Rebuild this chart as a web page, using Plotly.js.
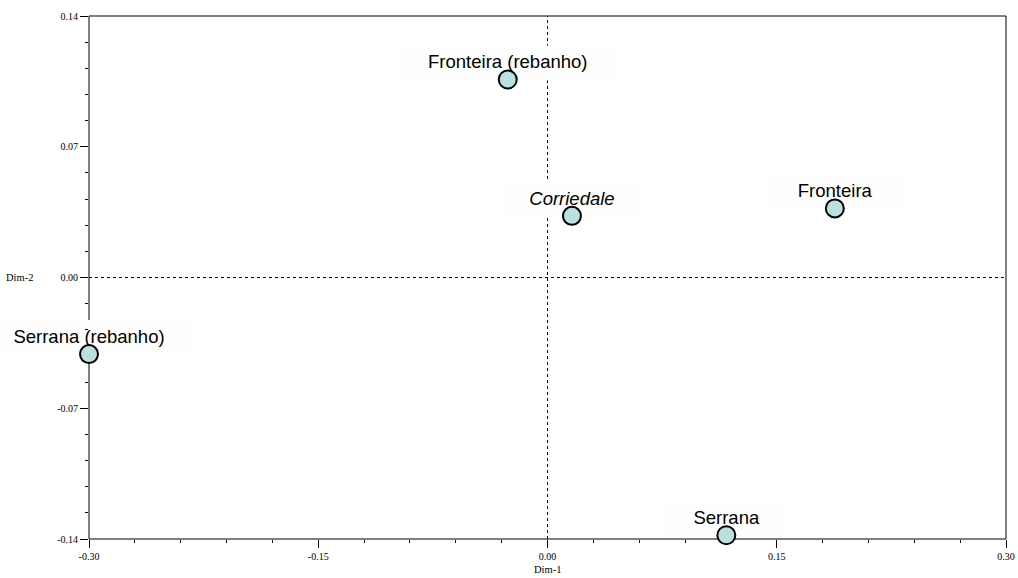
<!DOCTYPE html>
<html>
<head>
<meta charset="utf-8">
<script src="https://cdn.plot.ly/plotly-3.0.1.min.js"></script>
<style>
  html, body { margin: 0; padding: 0; background: #ffffff; }
  #chart { width: 1018px; height: 578px; }
</style>
</head>
<body>
<div id="chart"></div>
<script>
// Correspondence-analysis style map: groups placed on Dim-1 / Dim-2
const groups = ['Fronteira (rebanho)', 'Corriedale', 'Fronteira', 'Serrana (rebanho)', 'Serrana'];
const dim1 = [-0.026, 0.016, 0.188, -0.300, 0.117];
const dim2 = [0.106, 0.033, 0.037, -0.041, -0.138];
const italicGroups = ['Corriedale'];

const xTicks = [-0.30, -0.15, 0.00, 0.15, 0.30];
const yTicks = [-0.14, -0.07, 0.00, 0.07, 0.14];
const xTickText = xTicks.map(v => v.toFixed(2));
const yTickText = yTicks.map(v => v.toFixed(2));

const xRange = [xTicks[0], xTicks[xTicks.length - 1]];
const yRange = [yTicks[0], yTicks[yTicks.length - 1]];

// convert a data value to a paper fraction
const xFrac = v => (v - xRange[0]) / (xRange[1] - xRange[0]);
const yFrac = v => (v - yRange[0]) / (yRange[1] - yRange[0]);

const labelText = groups.map(g => italicGroups.includes(g) ? '<i>' + g + '</i>' : g);

// labels (drawn first so the markers sit on top of them)
const labelTrace = {
  type: 'scatter',
  mode: 'markers+text',
  x: dim1,
  y: dim2,
  text: labelText,
  textposition: 'top center',
  textfont: { family: 'Liberation Sans, Arial, sans-serif', size: 18.5, color: '#000000' },
  marker: { size: 9, color: 'rgba(0,0,0,0)', line: { width: 0 } },
  cliponaxis: false,
  hoverinfo: 'skip',
  showlegend: false
};

const pointTrace = {
  type: 'scatter',
  mode: 'markers',
  x: dim1,
  y: dim2,
  marker: { size: 18, color: '#bcdfe0', line: { color: '#000000', width: 2 } },
  cliponaxis: false,
  hovertext: groups,
  hoverinfo: 'text',
  showlegend: false
};

const dashStyle = { color: '#000000', width: 1, dash: '3px,3px' };

const shapes = [
  // plot frame
  { type: 'rect', xref: 'paper', yref: 'paper', x0: 0, x1: 1, y0: 0, y1: 1,
    line: { color: '#000000', width: 1 }, layer: 'below' },
  // reference lines through the origin
  { type: 'line', xref: 'paper', yref: 'paper', x0: 0, x1: 1, y0: yFrac(0), y1: yFrac(0),
    line: dashStyle, layer: 'below' },
  { type: 'line', xref: 'paper', yref: 'paper', x0: xFrac(0), x1: xFrac(0), y0: 0, y1: 1,
    line: dashStyle, layer: 'below' }
];

// near-white label panels behind each group name
groups.forEach((g, i) => {
  const halfW = g.length * 4.2 + 30;
  shapes.push({
    type: 'rect', xref: 'paper', yref: 'paper',
    xsizemode: 'pixel', ysizemode: 'pixel',
    xanchor: xFrac(dim1[i]), yanchor: yFrac(dim2[i]),
    x0: -halfW, x1: halfW, y0: -1, y1: 34,
    fillcolor: '#fefefe', line: { width: 0 }, layer: 'below'
  });
});

const tickFont = { family: 'Liberation Serif, Times New Roman, serif', size: 10, color: '#000000' };

const layout = {
  width: 1018,
  height: 578,
  margin: { l: 89, r: 12, t: 16, b: 39 },
  paper_bgcolor: '#ffffff',
  plot_bgcolor: '#ffffff',
  showlegend: false,
  xaxis: {
    range: xRange,
    layer: 'below traces',
    showgrid: false, zeroline: false, showline: false,
    tickmode: 'array', tickvals: xTicks, ticktext: xTickText,
    ticks: 'outside', ticklen: 8, tickwidth: 1, tickcolor: '#000000',
    tickfont: tickFont,
    minor: { tickmode: 'linear', tick0: xRange[0], dtick: 0.03,
             ticks: 'outside', ticklen: 3, tickwidth: 1, tickcolor: '#000000' }
  },
  yaxis: {
    range: yRange,
    layer: 'below traces',
    showgrid: false, zeroline: false, showline: false,
    tickmode: 'array', tickvals: yTicks, ticktext: yTickText,
    ticks: 'outside', ticklen: 8, tickwidth: 1, tickcolor: '#000000',
    tickfont: tickFont,
    minor: { tickmode: 'linear', tick0: yRange[0], dtick: 0.014,
             ticks: 'outside', ticklen: 3, tickwidth: 1, tickcolor: '#000000' }
  },
  shapes: shapes,
  annotations: [
    { text: 'Dim-1', xref: 'x', yref: 'paper', x: 0, y: 0,
      xanchor: 'center', yanchor: 'top', yshift: -23, showarrow: false,
      font: { family: 'Liberation Serif, Times New Roman, serif', size: 10.5, color: '#000000' } },
    { text: 'Dim-2', xref: 'paper', yref: 'y', x: 0, y: 0,
      xanchor: 'right', yanchor: 'middle', xshift: -54, showarrow: false,
      font: { family: 'Liberation Serif, Times New Roman, serif', size: 10.5, color: '#000000' } }
  ]
};

Plotly.newPlot('chart', [labelTrace, pointTrace], layout, { displayModeBar: false, staticPlot: true });
</script>
</body>
</html>
